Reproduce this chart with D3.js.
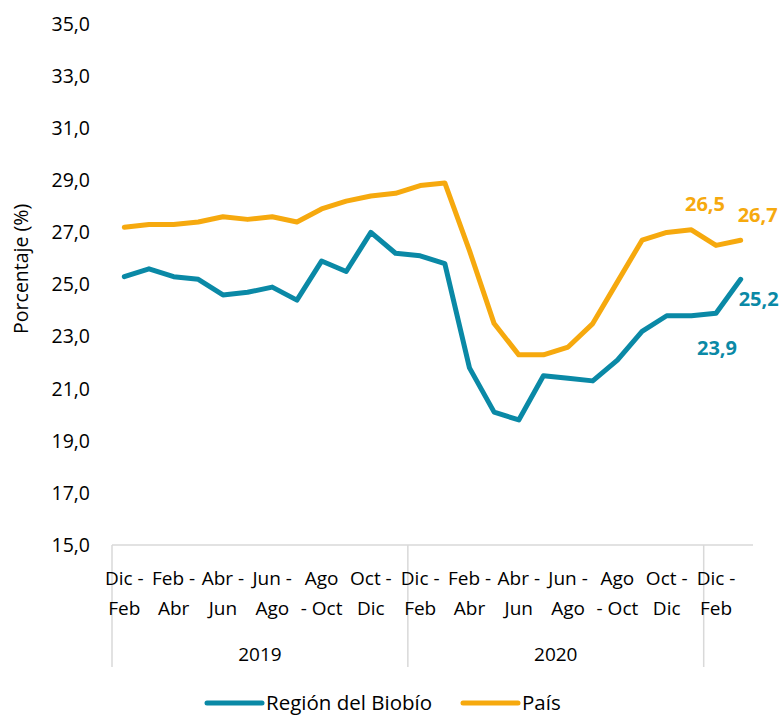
<!DOCTYPE html>
<html>
<head>
<meta charset="utf-8">
<script src="https://cdn.jsdelivr.net/npm/d3@7"></script>
<style>
  body { margin: 0; background: #fff; }
  svg { display: block; font-family: "Open Sans", "Noto Sans", sans-serif; }
</style>
</head>
<body>
<div id="vis"></div>
<script>
// moving-quarter categories, grouped by year
const periods = ["Dic - Feb","Ene - Mar","Feb - Abr","Mar - May","Abr - Jun","May - Jul",
                 "Jun - Ago","Jul - Sep","Ago - Oct","Sep - Nov","Oct - Dic","Nov - Ene"];
const years = ["2019", "2020", "2021"];
const yearCounts = [12, 12, 2];
const yearLabels = ["2019", "2020", ""];
// two-line tick labels, only every second period is labelled
const tickLines = {
  "Dic - Feb": ["Dic -", "Feb"], "Feb - Abr": ["Feb -", "Abr"], "Abr - Jun": ["Abr -", "Jun"],
  "Jun - Ago": ["Jun -", "Ago"], "Ago - Oct": ["Ago", "- Oct"], "Oct - Dic": ["Oct -", "Dic"]
};
const yTicks = [15, 17, 19, 21, 23, 25, 27, 29, 31, 33, 35];

const biobio = [25.3,25.6,25.3,25.2,24.6,24.7,24.9,24.4,25.9,25.5,27.0,26.2,
                26.1,25.8,21.8,20.1,19.8,21.5,21.4,21.3,22.1,23.2,23.8,23.8,
                23.9,25.2];
const pais   = [27.2,27.3,27.3,27.4,27.6,27.5,27.6,27.4,27.9,28.2,28.4,28.5,
                28.8,28.9,26.3,23.5,22.3,22.3,22.6,23.5,25.1,26.7,27.0,27.1,
                26.5,26.7];

const seriesNames = ["Región del Biobío", "País"];
const colors = ["#0a89a6", "#f6a90e"];

// build category keys
const cats = [];
years.forEach((y, yi) => {
  for (let i = 0; i < yearCounts[yi]; i++) cats.push({ key: y + "|" + i, year: y, period: periods[i], idx: i });
});

const width = 783, height = 715;
const svg = d3.select('#vis').append('svg').attr('width', width).attr('height', height);

const x = d3.scaleBand().domain(cats.map(c => c.key)).range([112, 753]);
const y = d3.scaleLinear().domain([15, 35]).range([545, 24]);
const axisColor = '#d9d9d9';

// y tick labels
svg.append('g').selectAll('text').data(yTicks).enter().append('text')
  .attr('x', 90).attr('y', d => y(d)).attr('dy', '0.35em')
  .attr('text-anchor', 'end').style('font-size', '19.5px').attr('fill', '#000')
  .text(d => d3.format('.1f')(d).replace('.', ','));

// y title
svg.append('text')
  .attr('transform', `translate(28,${y(25.6)}) rotate(-90)`)
  .attr('text-anchor', 'middle').style('font-size', '19.5px')
  .text('Porcentaje (%)');

// x axis line
svg.append('line').attr('x1', x.range()[0]).attr('x2', x.range()[1])
  .attr('y1', y(15)).attr('y2', y(15)).attr('stroke', axisColor).attr('stroke-width', 1.5);

// group separators
let start = 0;
const bounds = [0];
yearCounts.forEach(c => { start += c; bounds.push(start); });
svg.append('g').selectAll('line').data(bounds.slice(0, 3)).enter().append('line')
  .attr('x1', d => x.range()[0] + d * x.step()).attr('x2', d => x.range()[0] + d * x.step())
  .attr('y1', y(15)).attr('y2', 667).attr('stroke', axisColor).attr('stroke-width', 1.5);

// tick labels
const ticks = svg.append('g').selectAll('text')
  .data(cats.filter(c => c.idx % 2 === 0)).enter().append('text')
  .attr('text-anchor', 'middle').style('font-size', '19px')
  .attr('transform', d => `translate(${x(d.key) + x.bandwidth() / 2},0)`);
ticks.append('tspan').attr('x', 0).attr('y', 585).text(d => tickLines[d.period][0]);
ticks.append('tspan').attr('x', 0).attr('y', 615).text(d => tickLines[d.period][1]);

// year labels
svg.append('g').selectAll('text').data(years).enter().append('text')
  .attr('x', (d, i) => x.range()[0] + (bounds[i] + bounds[i + 1]) / 2 * x.step())
  .attr('y', 661).attr('text-anchor', 'middle').style('font-size', '19px')
  .text((d, i) => yearLabels[i]);

// lines
const line = d3.line().x((d, i) => x(cats[i].key) + x.bandwidth() / 2).y(d => y(d));
[pais, biobio].forEach((s, k) => {
  svg.append('path').datum(s).attr('d', line).attr('fill', 'none')
    .attr('stroke', colors[1 - k]).attr('stroke-width', 5)
    .attr('stroke-linejoin', 'round').attr('stroke-linecap', 'round');
});

// data labels on the last points
const fmt = v => d3.format('.1f')(v).replace('.', ',');
const px = i => x(cats[i].key) + x.bandwidth() / 2;
const labels = [
  { s: pais, i: 24, c: colors[1], dx: -11, dy: -34, anchor: 'middle' },
  { s: pais, i: 25, c: colors[1], dx: -3, dy: -18, anchor: 'start' },
  { s: biobio, i: 25, c: colors[0], dx: -2, dy: 27, anchor: 'start' },
  { s: biobio, i: 24, c: colors[0], dx: 1, dy: 42, anchor: 'middle' }
];
svg.append('g').selectAll('text').data(labels).enter().append('text')
  .attr('x', d => px(d.i) + d.dx).attr('y', d => y(d.s[d.i]) + d.dy)
  .attr('text-anchor', d => d.anchor).attr('fill', d => d.c)
  .style('font-size', '20px').style('font-weight', 'bold')
  .text(d => fmt(d.s[d.i]));

// legend
const legendX = [207, 463];
const lg = svg.append('g').selectAll('g').data(seriesNames).enter().append('g')
  .attr('transform', (d, i) => `translate(${legendX[i]},703)`);
lg.append('line').attr('x1', 0).attr('x2', 55).attr('stroke', (d, i) => colors[i])
  .attr('stroke-width', 5).attr('stroke-linecap', 'round');
lg.append('text').attr('x', 59).attr('dy', '0.35em').style('font-size', '20.5px').text(d => d);
</script>
</body>
</html>
